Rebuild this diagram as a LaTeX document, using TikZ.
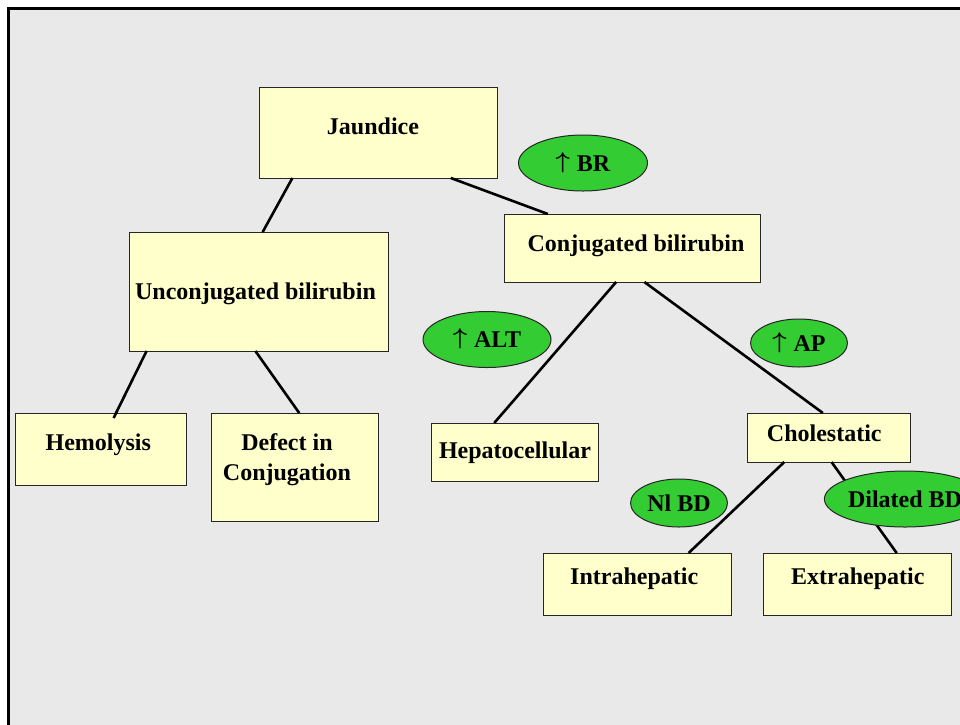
\documentclass[tikz,border=0pt]{standalone}
\usepackage{fontspec}
\setmainfont{Liberation Serif}
\usetikzlibrary{
    shapes.geometric
}
\definecolor{slidegray}{HTML}{E9E9E9}
\definecolor{boxyellow}{HTML}{FFFFCC}
\definecolor{markgreen}{HTML}{33CC33}
\newcommand{\incr}{\raisebox{3pt}{\scalebox{1}[0.92]{\boldmath$\uparrow$}}\hspace{7pt}}

\begin{document}
\begin{tikzpicture}[
    x=1pt,
    y=-1pt,
    frame/.style = {
        draw=black,
        fill=slidegray,
        line width=3pt
    },
    box/.style = {
        draw=black!85,
        rectangle,
        fill=boxyellow,
        line width=1pt,
        inner sep=0pt,
        outer sep=0pt
    },
    boxtext/.style = {
        anchor=base,
        align=center,
        inner sep=0pt,
        font=\bfseries\fontsize{24}{29.3}\selectfont
    },
    marker/.style = {
        draw=black!85,
        ellipse,
        fill=markgreen,
        line width=1pt,
        inner sep=0pt,
        text height=16pt,
        text depth=0pt,
        font=\bfseries\fontsize{24}{29}\selectfont
    },
    link/.style = {
        draw,
        line width=2.6pt
    }
]
    \useasboundingbox (0,0) rectangle (960,724);

    % Slide background
    \fill [white] (0,0) rectangle (960,724);
    \draw [frame] (8.8,8.8) rectangle (990,760);

    % Boxes
    \node [box, minimum width=238, minimum height=91] (jaundice) at (378,132.5) {};
    \node [box, minimum width=259, minimum height=119] (unconj_bili) at (258.5,291.5) {};
    \node [box, minimum width=256, minimum height=68] (conj_bili) at (632,248) {};
    \node [box, minimum width=171, minimum height=72] (hemolysis) at (100.5,449) {};
    \node [box, minimum width=167, minimum height=108] (conj_defect) at (294.5,467) {};
    \node [box, minimum width=167, minimum height=58] (hepatocell) at (514.5,452) {};
    \node [box, minimum width=163, minimum height=49] (cholestatic) at (828.5,437.5) {};
    \node [box, minimum width=188, minimum height=62] (intrahep) at (637,584) {};
    \node [box, minimum width=188, minimum height=62] (extrahep) at (857,584) {};

    % Box texts, placed on their (last) baselines
    \node [boxtext] (jaundice_txt) at (373,134) {Jaundice};
    \node [boxtext] (unconj_bili_txt) at (255.5,299) {Unconjugated bilirubin};
    \node [boxtext] (conj_bili_txt) at (636,251) {Conjugated bilirubin};
    \node [boxtext] (hemolysis_txt) at (98.3,450.7) {Hemolysis};
    \node [boxtext] (conj_defect_txt) at (287,480) {Defect in\\ Conjugation};
    \node [boxtext] (hepatocell_txt) at (515,458.3) {Hepatocellular};
    \node [boxtext] (cholestatic_txt) at (824.3,441) {Cholestatic};
    \node [boxtext] (intrahep_txt) at (634.2,584) {Intrahepatic};
    \node [boxtext] (extrahep_txt) at (857.8,584) {Extrahepatic};

    \begin{scope}[link]
        \draw (jaundice.208) -- (unconj_bili.86);
        \draw (jaundice.328) -- (conj_bili.158);

        \draw (unconj_bili.208) -- ([yshift=-5pt]hemolysis.70);
        \draw (unconj_bili.267) -- (conj_defect.85);

        \draw (conj_bili.245) -- (hepatocell.125);
        \draw (conj_bili.290) -- (cholestatic.103);

        \draw (cholestatic.209.5) -- (intrahep.31);
        \draw (cholestatic.277.5) -- (extrahep.38);
    \end{scope}

    % Lab markers
    \node [marker, minimum width=129, minimum height=56] (br_marker) at (583,163) {\incr BR};
    \node [marker, minimum width=128, minimum height=56] (alt_marker) at (487,339.5) {\incr ALT};
    \node [marker, minimum width=97, minimum height=48] (ap_marker) at (799,343) {\incr AP};
    \node [marker, minimum width=97, minimum height=48] (nl_bd_marker) at (679,503) {Nl BD};
    \node [marker, minimum width=132, minimum height=56] (dil_bd_marker) at (905,499) {Dilated BD};
\end{tikzpicture}
\end{document}
